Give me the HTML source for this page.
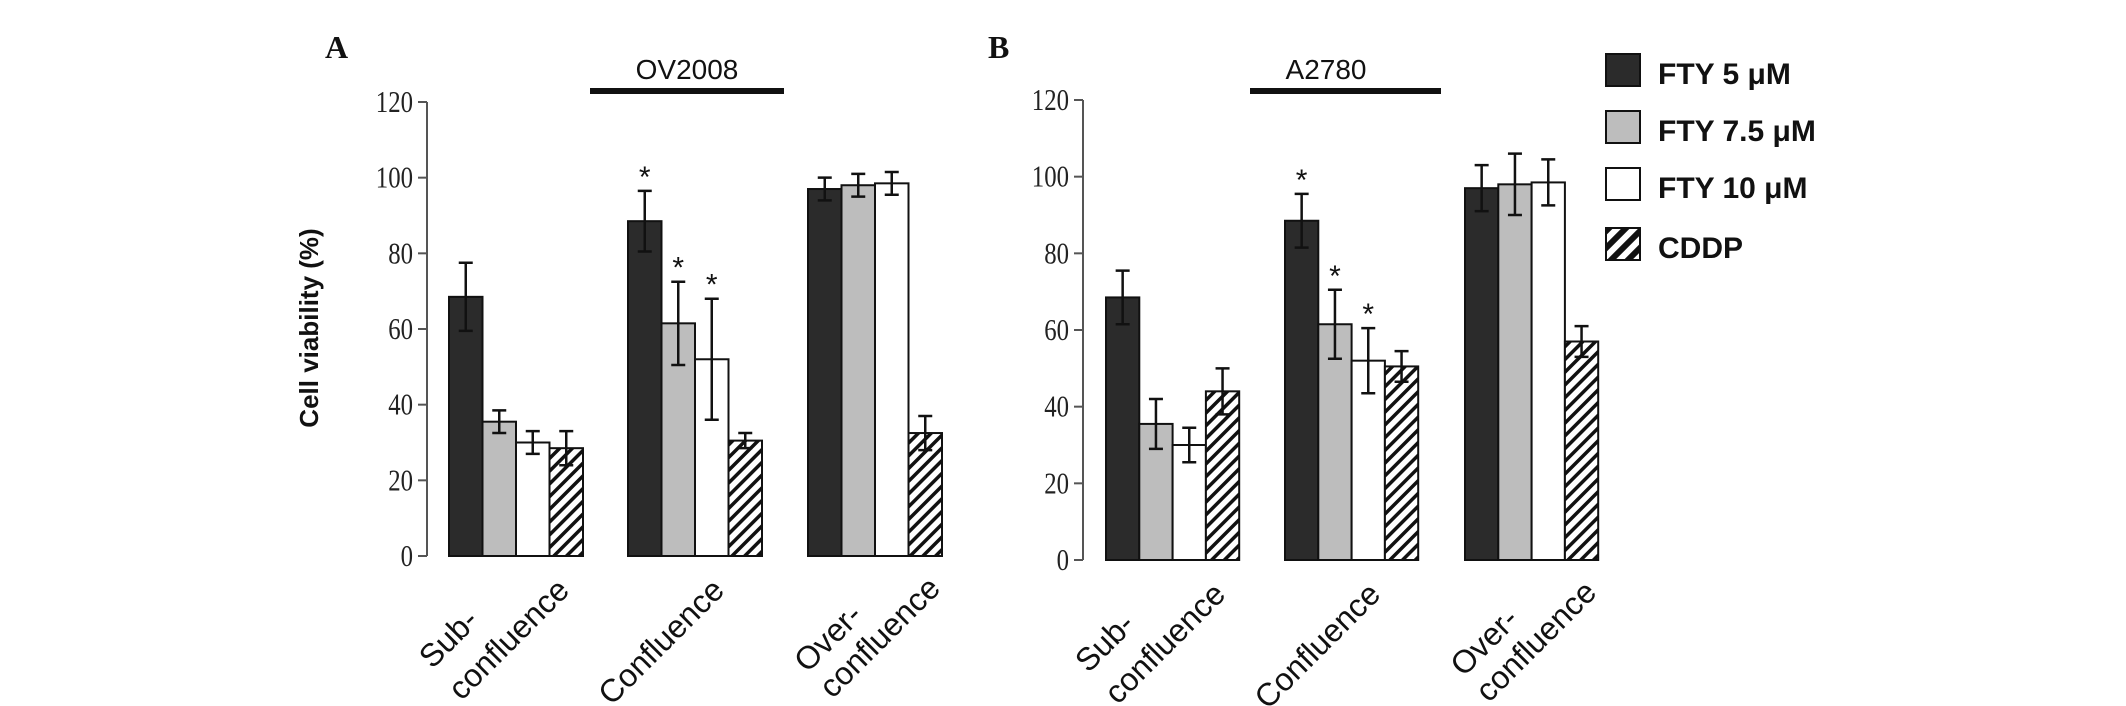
<!DOCTYPE html>
<html><head><meta charset="utf-8"><style>
html,body{margin:0;padding:0;background:#fff;}
svg{display:block;}
</style></head><body>
<svg id="chart" width="2126" height="706" xmlns="http://www.w3.org/2000/svg">
<defs>
<pattern id="hatch" patternUnits="userSpaceOnUse" width="9" height="9" patternTransform="rotate(45)">
<rect width="9" height="9" fill="#fff"/><rect x="0" y="0" width="3.5" height="9" fill="#111"/>
</pattern>
<pattern id="hatchL" patternUnits="userSpaceOnUse" width="12" height="12" patternTransform="rotate(45)">
<rect width="12" height="12" fill="#fff"/><rect x="0" y="0" width="6" height="12" fill="#111"/>
</pattern>
</defs>
<g id="root"></g>
</svg>
<script>
const categories = ["Sub-confluence","Confluence","Over-confluence"];
const seriesNames = ["FTY 5 μM","FTY 7.5 μM","FTY 10 μM","CDDP"];
const tickValues = [0,20,40,60,80,100,120];
const valuesA = [[68.5,35.5,30,28.5],[88.5,61.5,52,30.5],[97,98,98.5,32.5]];
const errorsA = [[9,3,3,4.5],[8,11,16,2],[3,3,3,4.5]];
const starsA = [[0,0,0,0],[1,1,1,0],[0,0,0,0]];
const valuesB = [[68.5,35.5,30,44],[88.5,61.5,52,50.5],[97,98,98.5,57]];
const errorsB = [[7,6.5,4.5,6],[7,9,8.5,4],[6,8,6,4]];
const starsB = [[0,0,0,0],[1,1,1,0],[0,0,0,0]];

const NS="http://www.w3.org/2000/svg";
const root=document.getElementById('root');
function mk(tag,attrs,parent){const e=document.createElementNS(NS,tag);for(const k in attrs)e.setAttribute(k,attrs[k]);(parent||root).appendChild(e);return e;}
const fills=["#2b2b2b","#bdbdbd","#ffffff","url(#hatch)"];

function panel(cfg,values,errors,stars){
  const g=mk('g',{});
  
  
  const y=v=>cfg.y0-(v/120)*(cfg.y0-cfg.y120);
  const ax=mk('line',{x1:cfg.ax,x2:cfg.ax,y1:y(120),y2:y(0),stroke:'#555','stroke-width':2},g);
  
  
  tickValues.forEach(t=>{
    const tl=mk('line',{x1:cfg.ax-9,x2:cfg.ax,y1:y(t),y2:y(t),stroke:'#555','stroke-width':2},g);
    
    
    const tx=mk('text',{x:(cfg.ax-14)/0.8,y:y(t)+10,'text-anchor':'end','font-family':'Liberation Serif, serif','font-size':31,fill:'#222',transform:'scale(0.8,1)'},g);
    tx.textContent=t;
    
    
  });
  const bw=cfg.bw;
  categories.forEach((c,ci)=>{
    const gx=cfg.gx[ci];
    values[ci].forEach((v,si)=>{
      const x=gx+si*bw;
      const r=mk('rect',{x:x,y:y(v),width:bw,height:y(0)-y(v),fill:fills[si],stroke:'#111','stroke-width':2},g);
      
      
      const cx=x+bw/2,e=errors[ci][si];
      const eb=mk('path',{d:`M${cx} ${y(v+e)}V${y(v-e)}M${cx-7} ${y(v+e)}H${cx+7}M${cx-7} ${y(v-e)}H${cx+7}`,stroke:'#111','stroke-width':2.5,fill:'none'},g);
      
      
      if(stars[ci][si]){
        const s=mk('text',{x:cx,y:y(v+e)-4,'text-anchor':'middle','font-family':'Liberation Sans, sans-serif','font-size':30,fill:'#111'},g);
        s.textContent='*';
        
        
      }
    });
    const xr=gx+4*bw;
    cfg.labels[ci].forEach(L=>{
      const t=mk('text',{x:0,y:0,'text-anchor':'end','font-family':'Liberation Sans, sans-serif','font-size':32,fill:'#111',transform:`translate(${xr+L[0]},${y(0)+L[1]}) rotate(-45)`},g);
      t.textContent=L[2];
      
      
    });
  });
  const tt=mk('text',{x:cfg.tc,y:79,'text-anchor':'middle','font-family':'Liberation Sans, sans-serif','font-size':28,fill:'#111'},g);
  tt.textContent=cfg.title;
  
  
  const tb=mk('rect',{x:cfg.tl[0],y:88,width:cfg.tl[1]-cfg.tl[0],height:6,fill:'#111'},g);
  
  
  const pl=mk('text',{x:cfg.lx,y:58,'font-family':'Liberation Serif, serif','font-weight':'bold','font-size':32,fill:'#111'},g);
  pl.textContent=cfg.letter;
  
  
}
const lblA=[[[-103,66,"Sub-"],[-12,36,"confluence"]],[[-36,36,"Confluence"]],[[-78,61,"Over-"],[0,34,"confluence"]]];
panel({name:'panel-a-ov2008',ax:427,y0:556,y120:102,gx:[449,628,808],bw:33.5,title:'OV2008',tc:687,tl:[590,784],lx:325,letter:'A',labels:lblA},valuesA,errorsA,starsA);
panel({name:'panel-b-a2780',ax:1083,y0:560,y120:100,gx:[1106,1285,1465],bw:33.3,title:'A2780',tc:1326,tl:[1250,1441],lx:988,letter:'B',labels:lblA},valuesB,errorsB,starsB);

const yt=mk('text',{x:0,y:0,'text-anchor':'middle','font-family':'Liberation Sans, sans-serif','font-weight':'bold','font-size':26,fill:'#111',transform:'translate(318,328) rotate(-90)'});
yt.textContent='Cell viability (%)';



const lf=["#2b2b2b","#bdbdbd","#ffffff","url(#hatchL)"];
const ly=[54,111,168,228];
seriesNames.forEach((n,i)=>{
  const g=mk('g',{});
  
  
  mk('rect',{x:1606,y:ly[i],width:34,height:32,fill:lf[i],stroke:'#111','stroke-width':2},g);
  const t=mk('text',{x:1658,y:ly[i]+30,'font-family':'Liberation Sans, sans-serif','font-weight':'bold','font-size':30,fill:'#111'},g);
  t.textContent=n;
});
</script>
</body></html>
